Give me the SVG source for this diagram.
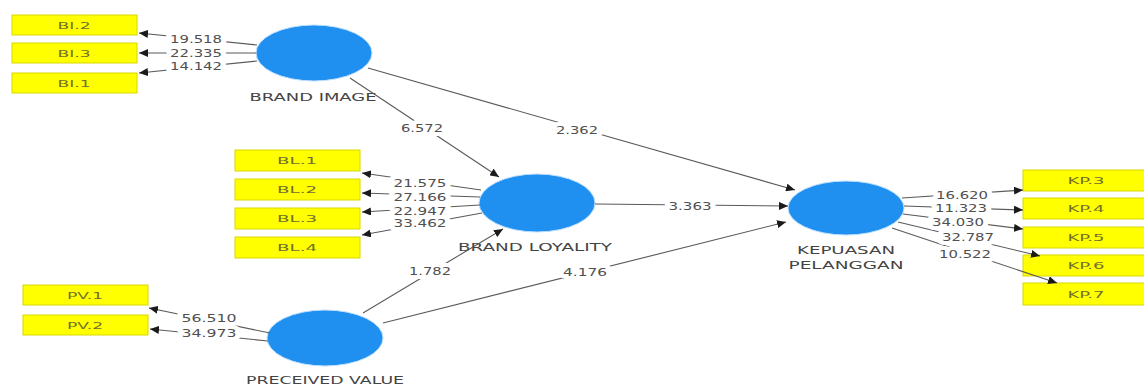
<svg xmlns="http://www.w3.org/2000/svg" width="1144" height="387" viewBox="0 0 1144 387">
<style>
.bg{fill:#ffffff}
.lv{fill:#1f8ff0;stroke:#bfe0ff;stroke-width:1}
.box{fill:#ffff00;stroke:#d8d800;stroke-width:1}
.bt{font-family:"DejaVu Sans",sans-serif;font-size:9.5px;fill:#70702a;text-anchor:middle}
.nt{font-family:"DejaVu Sans",sans-serif;font-size:10px;fill:#444444;text-anchor:middle}
.et{font-family:"DejaVu Sans",sans-serif;font-size:11px;fill:#505050;text-anchor:middle;stroke:#ffffff;stroke-width:8;paint-order:stroke;stroke-linejoin:round}
.ln{stroke:#5a5a5a;stroke-width:1.1;fill:none;marker-end:url(#ah)}
</style>
<defs>
<marker id="ah" markerUnits="userSpaceOnUse" markerWidth="10" markerHeight="8" refX="9" refY="4" orient="auto">
<path d="M0,0 L9,4 L0,8 Z" fill="#1a1a1a"/>
</marker>
</defs>
<rect class="bg" x="0" y="0" width="1144" height="387"/>

<g id="BI.2"><rect class="box" x="12" y="15" width="125" height="20"/><text class="bt" x="74" y="29" textLength="33" lengthAdjust="spacingAndGlyphs">BI.2</text></g>
<g id="BI.3"><rect class="box" x="12" y="43" width="125" height="20"/><text class="bt" x="74" y="57" textLength="33" lengthAdjust="spacingAndGlyphs">BI.3</text></g>
<g id="BI.1"><rect class="box" x="12" y="73" width="125" height="20"/><text class="bt" x="74" y="87" textLength="33" lengthAdjust="spacingAndGlyphs">BI.1</text></g>

<g id="BL.1"><rect class="box" x="235" y="150" width="125" height="21"/><text class="bt" x="297" y="164" textLength="40" lengthAdjust="spacingAndGlyphs">BL.1</text></g>
<g id="BL.2"><rect class="box" x="235" y="179" width="125" height="21"/><text class="bt" x="297" y="193" textLength="40" lengthAdjust="spacingAndGlyphs">BL.2</text></g>
<g id="BL.3"><rect class="box" x="235" y="208" width="125" height="21"/><text class="bt" x="297" y="222" textLength="40" lengthAdjust="spacingAndGlyphs">BL.3</text></g>
<g id="BL.4"><rect class="box" x="235" y="237" width="125" height="21"/><text class="bt" x="297" y="251" textLength="40" lengthAdjust="spacingAndGlyphs">BL.4</text></g>

<g id="PV.1"><rect class="box" x="23" y="285" width="125" height="20"/><text class="bt" x="85" y="299" textLength="36" lengthAdjust="spacingAndGlyphs">PV.1</text></g>
<g id="PV.2"><rect class="box" x="23" y="315" width="125" height="20"/><text class="bt" x="85" y="329" textLength="36" lengthAdjust="spacingAndGlyphs">PV.2</text></g>

<g id="KP.3"><rect class="box" x="1023" y="170" width="125" height="21"/><text class="bt" x="1086" y="184" textLength="37" lengthAdjust="spacingAndGlyphs">KP.3</text></g>
<g id="KP.4"><rect class="box" x="1023" y="198" width="125" height="21"/><text class="bt" x="1086" y="212" textLength="37" lengthAdjust="spacingAndGlyphs">KP.4</text></g>
<g id="KP.5"><rect class="box" x="1023" y="227" width="125" height="21"/><text class="bt" x="1086" y="241" textLength="37" lengthAdjust="spacingAndGlyphs">KP.5</text></g>
<g id="KP.6"><rect class="box" x="1023" y="255" width="125" height="21"/><text class="bt" x="1086" y="269" textLength="37" lengthAdjust="spacingAndGlyphs">KP.6</text></g>
<g id="KP.7"><rect class="box" x="1023" y="283" width="125" height="22"/><text class="bt" x="1086" y="298" textLength="37" lengthAdjust="spacingAndGlyphs">KP.7</text></g>

<g id="BRAND_IMAGE"><ellipse class="lv" cx="314" cy="53" rx="58" ry="28"/><text class="nt" x="313" y="101" textLength="127" lengthAdjust="spacingAndGlyphs">BRAND IMAGE</text></g>
<g id="BRAND_LOYALITY"><ellipse class="lv" cx="537" cy="203" rx="58" ry="29"/><text class="nt" x="535" y="251" textLength="154" lengthAdjust="spacingAndGlyphs">BRAND LOYALITY</text></g>
<g id="KEPUASAN_PELANGGAN"><ellipse class="lv" cx="846" cy="208" rx="58" ry="27"/><text class="nt" x="846" y="254" textLength="98" lengthAdjust="spacingAndGlyphs">KEPUASAN</text><text class="nt" x="846" y="269" textLength="115" lengthAdjust="spacingAndGlyphs">PELANGGAN</text></g>
<g id="PRECEIVED_VALUE"><ellipse class="lv" cx="325" cy="338" rx="58" ry="28"/><text class="nt" x="325" y="384" textLength="158" lengthAdjust="spacingAndGlyphs">PRECEIVED VALUE</text></g>

<g id="connectors">
<line class="ln" x1="257" y1="45" x2="139" y2="33"/>
<line class="ln" x1="256" y1="53" x2="139" y2="53"/>
<line class="ln" x1="257" y1="61" x2="139" y2="73"/>
<line class="ln" x1="481" y1="190" x2="362" y2="173"/>
<line class="ln" x1="480" y1="197" x2="362" y2="193"/>
<line class="ln" x1="480" y1="205" x2="362" y2="212"/>
<line class="ln" x1="482" y1="213" x2="362" y2="235"/>
<line class="ln" x1="270" y1="333" x2="149" y2="308"/>
<line class="ln" x1="268" y1="341" x2="150" y2="329"/>
<line class="ln" x1="902" y1="198" x2="1023" y2="190"/>
<line class="ln" x1="904" y1="206" x2="1023" y2="210"/>
<line class="ln" x1="903" y1="214" x2="1023" y2="229"/>
<line class="ln" x1="898" y1="222" x2="1040" y2="256"/>
<line class="ln" x1="892" y1="228" x2="1057" y2="283"/>
<line class="ln" x1="350" y1="78" x2="499" y2="177"/>
<line class="ln" x1="368" y1="68" x2="795" y2="190"/>
<line class="ln" x1="595" y1="204" x2="788" y2="206"/>
<line class="ln" x1="363" y1="313" x2="503" y2="229"/>
<line class="ln" x1="383" y1="323" x2="786" y2="222"/>
<text class="et" x="196" y="43" textLength="52" lengthAdjust="spacingAndGlyphs">19.518</text>
<text class="et" x="196" y="57" textLength="52" lengthAdjust="spacingAndGlyphs">22.335</text>
<text class="et" x="196" y="70" textLength="52" lengthAdjust="spacingAndGlyphs">14.142</text>
<text class="et" x="420" y="187" textLength="53" lengthAdjust="spacingAndGlyphs">21.575</text>
<text class="et" x="420" y="201" textLength="53" lengthAdjust="spacingAndGlyphs">27.166</text>
<text class="et" x="420" y="215" textLength="53" lengthAdjust="spacingAndGlyphs">22.947</text>
<text class="et" x="420" y="227" textLength="53" lengthAdjust="spacingAndGlyphs">33.462</text>
<text class="et" x="209" y="322" textLength="55" lengthAdjust="spacingAndGlyphs">56.510</text>
<text class="et" x="209" y="337" textLength="55" lengthAdjust="spacingAndGlyphs">34.973</text>
<text class="et" x="962" y="199" textLength="52" lengthAdjust="spacingAndGlyphs">16.620</text>
<text class="et" x="961" y="212" textLength="52" lengthAdjust="spacingAndGlyphs">11.323</text>
<text class="et" x="958" y="226" textLength="52" lengthAdjust="spacingAndGlyphs">34.030</text>
<text class="et" x="968" y="241" textLength="52" lengthAdjust="spacingAndGlyphs">32.787</text>
<text class="et" x="965" y="258" textLength="52" lengthAdjust="spacingAndGlyphs">10.522</text>
<text class="et" x="422" y="132" textLength="42" lengthAdjust="spacingAndGlyphs">6.572</text>
<text class="et" x="577" y="134" textLength="42" lengthAdjust="spacingAndGlyphs">2.362</text>
<text class="et" x="690" y="210" textLength="43" lengthAdjust="spacingAndGlyphs">3.363</text>
<text class="et" x="430" y="275" textLength="42" lengthAdjust="spacingAndGlyphs">1.782</text>
<text class="et" x="585" y="276" textLength="44" lengthAdjust="spacingAndGlyphs">4.176</text>
</g>
</svg>
